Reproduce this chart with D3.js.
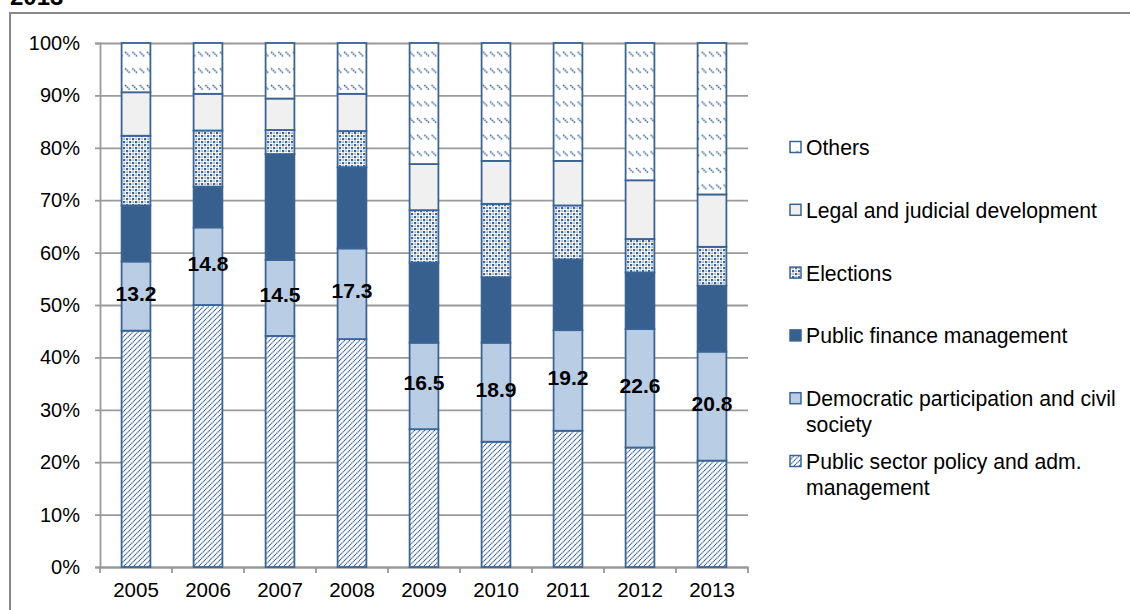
<!DOCTYPE html>
<html><head><meta charset="utf-8">
<script src="https://cdn.jsdelivr.net/npm/d3@7"></script>
<style>
body{margin:0;background:#fff}
svg{display:block}
text{font-family:"Liberation Sans",Arial,sans-serif;fill:#000}
</style>
</head><body>
<svg id="c" width="1130" height="610"></svg>
<script>
// ---- data ----
const years = ["2005","2006","2007","2008","2009","2010","2011","2012","2013"];
const publicSector   = [45.1, 50.0, 44.1, 43.5, 26.3, 23.9, 26.0, 22.8, 20.3];
const democratic     = [13.2, 14.8, 14.5, 17.3, 16.5, 18.9, 19.2, 22.6, 20.8];
const publicFinance  = [10.7,  7.8, 20.2, 15.5, 15.3, 12.5, 13.5, 10.8, 12.6];
const elections      = [13.3, 10.7,  4.6,  6.9, 10.0, 14.0, 10.3,  6.4,  7.4];
const legal          = [ 8.3,  7.0,  6.0,  7.1,  8.8,  8.2,  8.5, 11.2, 10.0];
const others         = [ 9.4,  9.7, 10.6,  9.7, 23.1, 22.5, 22.5, 26.2, 28.9];
const seriesKeys  = ["public","democratic","finance","elections","legal","others"];
const seriesNames = ["Public sector policy and adm. management","Democratic participation and civil society","Public finance management","Elections","Legal and judicial development","Others"];
const dataLabels  = ["13.2","14.8","14.5","17.3","16.5","18.9","19.2","22.6","20.8"];
const yTicks = [0,10,20,30,40,50,60,70,80,90,100];
const titleTail = "2013";

(function(){
const table = years.map((y,i)=>({year:y, public:publicSector[i], democratic:democratic[i], finance:publicFinance[i], elections:elections[i], legal:legal[i], others:others[i]}));

const svg = d3.select("#c");
const blue = "#3a6496";
const pLeft = 100, pRight = 748, pTop = 43, pBottom = 567;

// patterns
const defs = svg.append("defs");
const pO = defs.append("pattern").attr("id","pOthers").attr("patternUnits","userSpaceOnUse").attr("width",7.3).attr("height",16.6);
pO.append("rect").attr("width",7.3).attr("height",16.6).attr("fill","#fff");
pO.append("line").attr("x1",1).attr("y1",2).attr("x2",6).attr("y2",7).attr("stroke",blue).attr("stroke-width",1.6).attr("stroke-dasharray","1.6 0.8");
const pE = defs.append("pattern").attr("id","pElect").attr("patternUnits","userSpaceOnUse").attr("width",6).attr("height",6);
pE.append("rect").attr("width",6).attr("height",6).attr("fill","#fff");
pE.append("rect").attr("x",0).attr("y",0).attr("width",2.2).attr("height",2.2).attr("fill",blue);
pE.append("rect").attr("x",3).attr("y",3).attr("width",2.2).attr("height",2.2).attr("fill",blue);
pE.append("rect").attr("x",3.4).attr("y",0.4).attr("width",1.4).attr("height",1.4).attr("fill","#5f82ad");
pE.append("rect").attr("x",0.4).attr("y",3.4).attr("width",1.4).attr("height",1.4).attr("fill","#5f82ad");
const pP = defs.append("pattern").attr("id","pPublic").attr("patternUnits","userSpaceOnUse").attr("width",5).attr("height",5);
pP.append("rect").attr("width",5).attr("height",5).attr("fill","#fff");
[[0,5,5,0],[-1,1,1,-1],[4,6,6,4]].forEach(c=>pP.append("line").attr("x1",c[0]).attr("y1",c[1]).attr("x2",c[2]).attr("y2",c[3]).attr("stroke",blue).attr("stroke-width",1.2).attr("stroke-dasharray","1.4 0.5"));

const fills = {public:"url(#pPublic)", democratic:"#b9cde5", finance:"#38608f", elections:"url(#pElect)", legal:"#f0f0f0", others:"url(#pOthers)"};

// frame & title
svg.append("rect").attr("x",10).attr("y",13).attr("width",1140).attr("height",620).attr("fill","none").attr("stroke","#888").attr("stroke-width",2);
svg.append("text").attr("x",10).attr("y",5).attr("font-size",24).attr("font-weight","bold").text(titleTail);

const x = d3.scaleBand().domain(years).range([pLeft,pRight]).paddingInner(0.6).paddingOuter(0.3);
const y = d3.scaleLinear().domain([0,100]).range([pBottom,pTop]);

// gridlines
const grid = svg.append("g").attr("transform",`translate(${pLeft},0)`)
  .call(d3.axisLeft(y).tickValues(yTicks).tickSize(-(pRight-pLeft)).tickFormat(""));
grid.select(".domain").remove();
grid.selectAll("line").attr("stroke","#9a9a9a").attr("stroke-width",1.8);

// y axis
const ya = svg.append("g").attr("transform",`translate(${pLeft},0)`)
  .call(d3.axisLeft(y).tickValues(yTicks).tickSize(5).tickPadding(15).tickFormat(d=>d+"%"));
ya.select(".domain").attr("stroke","#9a9a9a").attr("stroke-width",1.8);
ya.selectAll("line").attr("stroke","#9a9a9a").attr("stroke-width",1.8);
ya.selectAll("text").attr("font-size",20).attr("font-family","Liberation Sans, Arial, sans-serif").attr("fill","#000");

// x axis
const xa = svg.append("g").attr("transform",`translate(0,${pBottom})`)
  .call(d3.axisBottom(x).tickSize(0).tickPadding(0));
xa.select(".domain").attr("stroke","#9a9a9a").attr("stroke-width",1.8);
xa.selectAll("text").attr("font-size",20.5).attr("font-family","Liberation Sans, Arial, sans-serif").attr("fill","#000").attr("dy",null).attr("y",30);
const bounds = d3.range(years.length+1).map(i=>x.range()[0] + i*x.step());
xa.selectAll(".bt").data(bounds).join("line").attr("class","bt")
  .attr("x1",d=>d).attr("x2",d=>d).attr("y1",0).attr("y2",6).attr("stroke","#9a9a9a").attr("stroke-width",1.8);

// bars
const stacked = d3.stack().keys(seriesKeys)(table);
const bars = svg.append("g");
stacked.forEach(s=>{
  bars.append("g").selectAll("rect").data(s).join("rect")
    .attr("x",d=>x(d.data.year)).attr("width",x.bandwidth())
    .attr("y",d=>y(d[1])).attr("height",d=>y(d[0])-y(d[1]))
    .attr("fill",fills[s.key]).attr("stroke",blue).attr("stroke-width",1.8);
});

// data labels (democratic segment)
const dem = stacked[1];
svg.append("g").selectAll("text").data(dem).join("text")
  .attr("x",d=>x(d.data.year)+x.bandwidth()/2)
  .attr("y",d=>(y(d[0])+y(d[1]))/2 - 3)
  .attr("text-anchor","middle").attr("dominant-baseline","central")
  .attr("font-size",21).attr("font-weight","bold")
  .text((d,i)=>dataLabels[i]);

// legend
const legOrder = seriesKeys.map((k,i)=>({key:k,name:seriesNames[i]})).reverse();
const lg = svg.append("g");
legOrder.forEach((d,i)=>{
  const cy = 147 + i*62.8;
  lg.append("rect").attr("x",790).attr("y",cy-5.5).attr("width",11).attr("height",11)
    .attr("fill",fills[d.key]).attr("stroke",blue).attr("stroke-width",1.5);
  const t = lg.append("text").attr("x",806).attr("y",cy).attr("dominant-baseline","central").attr("font-size",21.2);
  const words = d.name.split(" ");
  let line = [];
  let ts = t.append("tspan").attr("x",806).attr("dy",0);
  words.forEach(w=>{
    line.push(w);
    ts.text(line.join(" "));
    if (ts.node().getComputedTextLength() > 318 && line.length>1) {
      line.pop(); ts.text(line.join(" "));
      line=[w];
      ts = t.append("tspan").attr("x",806).attr("dy",26).text(w);
    }
  });
});
})();
</script>
</body></html>
